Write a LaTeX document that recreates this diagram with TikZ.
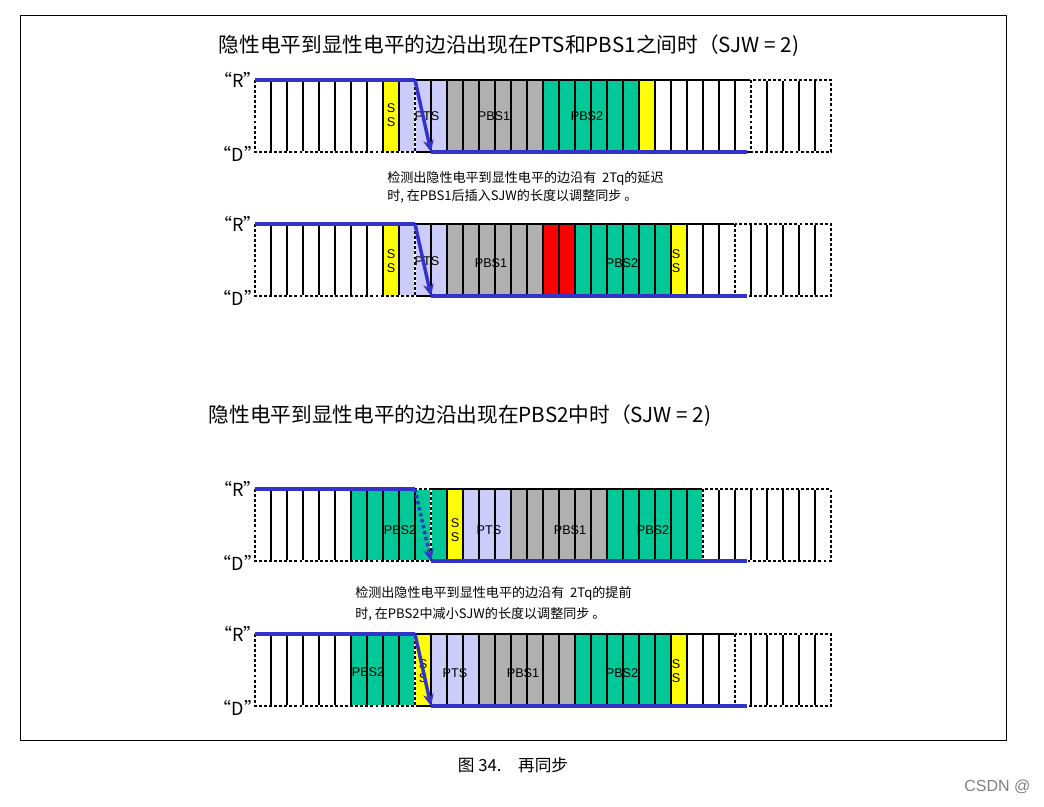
\documentclass[tikz,border=0pt]{standalone}
\usepackage{fontspec}
\setmainfont{Noto Sans CJK SC}
\newfontfamily\lat{Liberation Sans}
\usetikzlibrary{arrows.meta}
\definecolor{lav}{RGB}{204,204,250}
\definecolor{gr}{RGB}{176,176,176}
\definecolor{grn}{RGB}{0,200,150}
\definecolor{ylw}{RGB}{255,255,0}
\definecolor{rd}{RGB}{255,0,0}
\definecolor{bl}{RGB}{51,51,204}
\tikzset{
 cellbox/.style={draw=black,line width=1.3pt},
 dotbox/.style={draw=black,line width=1.8pt,dash pattern=on 2.2pt off 1.6pt},
 dotunder/.style={draw=white,line width=1.8pt},
 lvl/.style={draw=bl,line width=2.6pt},
 arr/.style={lvl,-{Stealth[length=9pt,width=8pt]}},
 lbl/.style={font=\lat\fontsize{9.5}{10}\selectfont,inner sep=0pt},
 rdl/.style={font=\fontsize{13.5}{14}\selectfont,inner sep=0pt},
 note/.style={font=\fontsize{9.8}{12}\selectfont,inner sep=0pt,anchor=west},
 ttl/.style={font=\fontsize{15.5}{17}\selectfont,inner sep=0pt}
}
\newcommand\cellrow[2]{%
 \foreach \c [count=\i from 0] in {#2}
   \draw[cellbox,fill=\c] ({255+16*\i},#1) rectangle ++(16,72);}
\newcommand\dotgrp[4]{\draw[dotunder] (#1,#3) rectangle (#2,#4);\draw[dotbox] (#1,#3) rectangle (#2,#4);}
\newcommand\sslbl[3]{\node[lbl,align=center] (#1) at (#2,#3) {S\\[1pt]S};}
\begin{document}
\begin{tikzpicture}[x=0.75pt,y=-0.75pt]
\useasboundingbox (0,0) rectangle (1044,806);
\draw[line width=0.6pt] (20,15) rectangle (1006,740);
\node[ttl] (t1) at (509,46) {隐性电平到显性电平的边沿出现在PTS和PBS1之间时（SJW = 2)};
\node[ttl] (t2) at (460,416) {隐性电平到显性电平的边沿出现在PBS2中时（SJW = 2)};
\node[font=\fontsize{12.5}{14}\selectfont] (cap) at (513,765) {图 34.\quad 再同步};
\node[font=\lat\fontsize{12}{14}\selectfont,text=gray,anchor=east] (wm) at (1035,787) {CSDN @};
% row 1
\cellrow{80}{white,white,white,white,white,white,white,white,ylw,lav,lav,lav,gr,gr,gr,gr,gr,gr,grn,grn,grn,grn,grn,grn,ylw,white,white,white,white,white,white,white,white,white,white,white}
\dotgrp{255}{415}{80}{152}
\dotgrp{751}{831}{80}{152}
\sslbl{s1}{391}{115}
\node[lbl] (p1) at (427,116) {PTS};
\node[lbl] (b1) at (494,116) {PBS1};
\node[lbl] (c1) at (587,116) {PBS2};
% row 2
\cellrow{224}{white,white,white,white,white,white,white,white,ylw,lav,lav,lav,gr,gr,gr,gr,gr,gr,rd,rd,grn,grn,grn,grn,grn,grn,ylw,white,white,white,white,white,white,white,white,white}
\dotgrp{255}{415}{224}{296}
\dotgrp{735}{831}{224}{296}
\sslbl{s2}{391}{261}
\sslbl{s3}{676}{261}
\node[lbl] (p2) at (427,261) {PTS};
\node[lbl] (b2) at (491,263) {PBS1};
\node[lbl] (c2) at (622,263) {PBS2};
% row 3
\cellrow{489}{white,white,white,white,white,white,grn,grn,grn,grn,grn,grn,ylw,lav,lav,lav,gr,gr,gr,gr,gr,gr,grn,grn,grn,grn,grn,grn,white,white,white,white,white,white,white,white}
\dotgrp{255}{431}{489}{561}
\dotgrp{703}{831}{489}{561}
\sslbl{s4}{455}{530}
\node[lbl] (c3) at (400,530) {PBS2};
\node[lbl] (p3) at (489,530) {PTS};
\node[lbl] (b3) at (570,530) {PBS1};
\node[lbl] (d3) at (653,530) {PBS2};
% row 4
\cellrow{634}{white,white,white,white,white,white,grn,grn,grn,grn,ylw,lav,lav,lav,gr,gr,gr,gr,gr,gr,grn,grn,grn,grn,grn,grn,ylw,white,white,white,white,white,white,white,white,white}
\dotgrp{255}{415}{634}{706}
\dotgrp{735}{831}{634}{706}
\sslbl{s5}{423}{671}
\sslbl{s6}{676}{671}
\node[lbl] (c4) at (368,672) {PBS2};
\node[lbl] (p4) at (455,673) {PTS};
\node[lbl] (b4) at (523,673) {PBS1};
\node[lbl] (d4) at (622,673) {PBS2};
% R/D labels and level lines
\foreach \y [count=\k] in {80,224,489,634}{
  \node[rdl] (R\k) at (238,\y) {“R”};
  \node[rdl] (D\k) at (238,\y+74) {“D”};
  \coordinate (a\k) at (255,\y);
  \coordinate (e\k) at (415,\y);
  \coordinate (f\k) at (431,\y+72);
  \coordinate (g\k) at (747,\y+72);
}
\draw[lvl] (a1) -- (e1); \draw[lvl] (f1) -- (g1); \draw[arr] (e1) -- (f1);
\draw[lvl] (a2) -- (e2); \draw[lvl] (f2) -- (g2); \draw[arr] (e2) -- (f2);
\draw[lvl] (a3) -- (e3); \draw[lvl] (f3) -- (g3); \draw[arr,dotted] (e3) -- (f3);
\draw[lvl] (a4) -- (e4); \draw[lvl] (f4) -- (g4); \draw[arr] (e4) -- (f4);
% notes
\node[note] (n1) at (387,178) {检测出隐性电平到显性电平的边沿有\ \ 2Tq的延迟};
\node[note] (n2) at (387,196) {时, 在PBS1后插入SJW的长度以调整同步\ 。};
\node[note] (n3) at (355,593) {检测出隐性电平到显性电平的边沿有\ \ 2Tq的提前};
\node[note] (n4) at (355,614) {时, 在PBS2中减小SJW的长度以调整同步\ 。};
\end{tikzpicture}
\end{document}
